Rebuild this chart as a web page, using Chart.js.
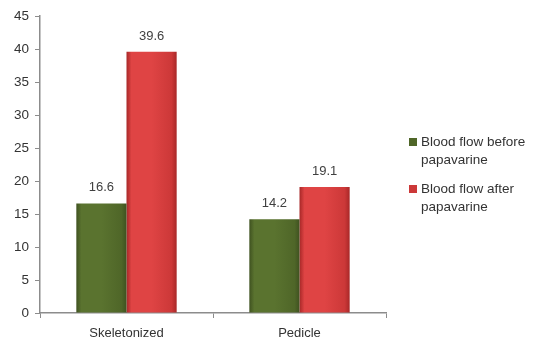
<!DOCTYPE html>
<html>
    <head>
        <script src="https://cdn.jsdelivr.net/npm/chart.js@4.4.0/dist/chart.umd.min.js"></script>
        <style>
            body { margin: 0; background: #fff; }
            #wrap { width: 537px; height: 354px; }
        </style>
    </head>
    <body>
        <div id="wrap"><canvas id="barChart" width="537" height="354"></canvas></div>
        <script>
            //Chart data
            const categories = ["Skeletonized", "Pedicle"];
            const seriesNames = [["Blood flow before", "papavarine"], ["Blood flow after", "papavarine"]];
            const beforeValues = [16.6, 14.2];
            const afterValues = [39.6, 19.1];
            const yTicks = [0, 5, 10, 15, 20, 25, 30, 35, 40, 45];

            //Edge / centre colours for the shaded bars
            const barShades = [
                { edge: "#3f5220", mid: "#5a732f", base: "#4f6628" },
                { edge: "#a82828", mid: "#df4444", base: "#cc3838" }
            ];

            //Plugin: horizontal gradient on every bar
            const gradientBars = {
                id: "gradientBars",
                beforeDatasetsDraw(chart) {
                    const ctx = chart.ctx;
                    chart.data.datasets.forEach(function (ds, di) {
                        const meta = chart.getDatasetMeta(di);
                        meta.data.forEach(function (bar) {
                            const left = bar.x - bar.width / 2;
                            const g = ctx.createLinearGradient(left, 0, left + bar.width, 0);
                            g.addColorStop(0, barShades[di].edge);
                            g.addColorStop(0.1, barShades[di].mid);
                            g.addColorStop(0.5, barShades[di].mid);
                            g.addColorStop(0.9, barShades[di].base);
                            g.addColorStop(1, barShades[di].edge);
                            //copy so every bar keeps its own gradient
                            bar.options = Object.assign({}, bar.options, { backgroundColor: g });
                        });
                    });
                }
            };

            //Plugin: value labels above bars
            const valueLabels = {
                id: "valueLabels",
                afterDatasetsDraw(chart) {
                    const ctx = chart.ctx;
                    ctx.save();
                    ctx.font = "13px 'Liberation Sans', Arial, sans-serif";
                    ctx.fillStyle = "#404040";
                    ctx.textAlign = "center";
                    ctx.textBaseline = "alphabetic";
                    chart.data.datasets.forEach(function (ds, di) {
                        chart.getDatasetMeta(di).data.forEach(function (bar, i) {
                            ctx.fillText(ds.data[i].toFixed(1), bar.x, bar.y - 12);
                        });
                    });
                    ctx.restore();
                }
            };

            //Plugin: legend on the right with two-line labels
            const sideLegend = {
                id: "sideLegend",
                afterDraw(chart) {
                    const ctx = chart.ctx;
                    ctx.save();
                    ctx.font = "13.5px 'Liberation Sans', Arial, sans-serif";
                    ctx.textBaseline = "middle";
                    const tops = [142, 189];
                    seriesNames.forEach(function (lines, di) {
                        const y = tops[di];
                        ctx.fillStyle = barShades[di].base;
                        ctx.fillRect(409, y - 4, 8, 8);
                        ctx.fillStyle = "#333";
                        lines.forEach(function (line, li) {
                            ctx.fillText(line, 421, y + li * 18);
                        });
                    });
                    ctx.restore();
                }
            };

            const data = {
                labels: categories,
                datasets: [
                    { label: seriesNames[0].join(" "), data: beforeValues, backgroundColor: barShades[0].base },
                    { label: seriesNames[1].join(" "), data: afterValues, backgroundColor: barShades[1].base }
                ]
            };

            const config = {
                type: "bar",
                data: data,
                options: {
                    responsive: false,
                    animation: false,
                    layout: { padding: { left: 0, right: 151, top: 16, bottom: 0 } },
                    datasets: { bar: { barPercentage: 1, categoryPercentage: 0.58 } },
                    plugins: { legend: { display: false }, tooltip: { enabled: false } },
                    scales: {
                        x: {
                            afterFit: function (s) { s.height = 41; },
                            border: { color: "#8c8c8c", width: 1.5 },
                            grid: { drawOnChartArea: false, offset: true, tickLength: 5, color: "#8c8c8c" },
                            ticks: { color: "#333", padding: 8, font: { size: 13, family: "'Liberation Sans', Arial, sans-serif" } }
                        },
                        y: {
                            min: 0,
                            max: 45,
                            afterFit: function (s) { s.width = 40; },
                            afterBuildTicks: function (s) { s.ticks = yTicks.map(function (v) { return { value: v }; }); },
                            border: { color: "#8c8c8c", width: 1.5 },
                            grid: { drawOnChartArea: false, tickLength: 5, color: "#8c8c8c" },
                            ticks: { color: "#333", padding: 6, font: { size: 13.5, family: "'Liberation Sans', Arial, sans-serif" } }
                        }
                    }
                },
                plugins: [gradientBars, valueLabels, sideLegend]
            };

            new Chart(document.getElementById("barChart"), config);
        </script>
    </body>
</html>
